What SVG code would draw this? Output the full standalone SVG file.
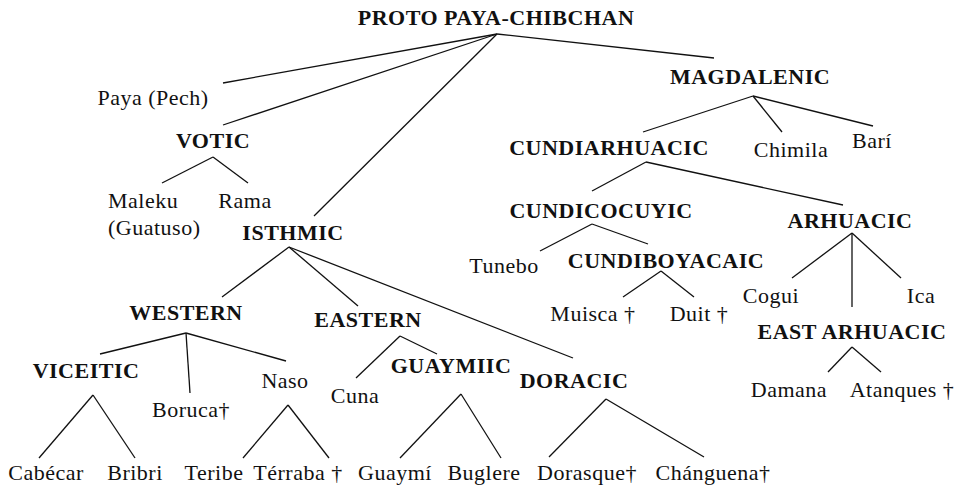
<svg xmlns="http://www.w3.org/2000/svg" width="965" height="489" viewBox="0 0 965 489">
<style>
text{font-family:"Liberation Serif","Times New Roman",serif;fill:#111;text-anchor:middle}
.b{font-weight:bold;font-size:22px;letter-spacing:0.5px}
.r{font-size:22px;letter-spacing:0.5px}
.s{text-anchor:start}
#edges line{stroke:#111;stroke-width:1.3}
</style>
<rect width="965" height="489" fill="#fff"/>
<g id="edges">
<line x1="497" y1="34" x2="223" y2="83"/>
<line x1="497" y1="34" x2="223" y2="125"/>
<line x1="497" y1="34" x2="314" y2="216"/>
<line x1="497" y1="34" x2="714" y2="58"/>
<line x1="213" y1="157" x2="162" y2="183"/>
<line x1="213" y1="157" x2="248" y2="183"/>
<line x1="289" y1="247" x2="222" y2="297"/>
<line x1="289" y1="247" x2="358" y2="306"/>
<line x1="289" y1="247" x2="573" y2="358"/>
<line x1="186" y1="333" x2="100" y2="354"/>
<line x1="186" y1="333" x2="190" y2="393"/>
<line x1="186" y1="333" x2="286" y2="361"/>
<line x1="400" y1="336" x2="356" y2="378"/>
<line x1="400" y1="336" x2="437" y2="354"/>
<line x1="93" y1="395" x2="39" y2="458"/>
<line x1="93" y1="395" x2="135" y2="458"/>
<line x1="288" y1="405" x2="243" y2="458"/>
<line x1="288" y1="405" x2="329" y2="458"/>
<line x1="461" y1="394" x2="400" y2="458"/>
<line x1="461" y1="394" x2="501" y2="458"/>
<line x1="606" y1="399" x2="549" y2="457"/>
<line x1="606" y1="399" x2="704" y2="457"/>
<line x1="753" y1="96" x2="643" y2="132"/>
<line x1="753" y1="96" x2="782" y2="132"/>
<line x1="753" y1="96" x2="873" y2="126"/>
<line x1="646" y1="162" x2="592" y2="191"/>
<line x1="646" y1="162" x2="843" y2="205"/>
<line x1="592" y1="224" x2="540" y2="251"/>
<line x1="592" y1="224" x2="648" y2="244"/>
<line x1="852" y1="233" x2="792" y2="278"/>
<line x1="852" y1="233" x2="852" y2="307"/>
<line x1="852" y1="233" x2="901" y2="278"/>
<line x1="661" y1="271" x2="623" y2="297"/>
<line x1="661" y1="271" x2="694" y2="297"/>
<line x1="852" y1="347" x2="828" y2="372"/>
<line x1="852" y1="347" x2="881" y2="372"/>
</g>
<g id="n-root"><text class="b" x="496" y="25">PROTO PAYA-CHIBCHAN</text></g>
<g id="n-paya"><text class="r" x="153" y="105">Paya (Pech)</text></g>
<g id="n-votic"><text class="b" x="213" y="148">VOTIC</text></g>
<g id="n-maleku"><text class="r s" x="108" y="208">Maleku</text><text class="r s" x="108" y="235">(Guatuso)</text></g>
<g id="n-rama"><text class="r" x="245" y="208">Rama</text></g>
<g id="n-isthmic"><text class="b" x="293" y="240">ISTHMIC</text></g>
<g id="n-western"><text class="b" x="186" y="320">WESTERN</text></g>
<g id="n-eastern"><text class="b" x="368" y="327">EASTERN</text></g>
<g id="n-viceitic"><text class="b" x="86" y="378">VICEITIC</text></g>
<g id="n-boruca"><text class="r" x="191" y="417">Boruca†</text></g>
<g id="n-naso"><text class="r" x="285" y="388">Naso</text></g>
<g id="n-cuna"><text class="r" x="355" y="403">Cuna</text></g>
<g id="n-guaymiic"><text class="b" x="451" y="373">GUAYMIIC</text></g>
<g id="n-doracic"><text class="b" x="574" y="388">DORACIC</text></g>
<g id="n-cabecar"><text class="r" x="46" y="480">Cabécar</text></g>
<g id="n-bribri"><text class="r" x="135" y="480">Bribri</text></g>
<g id="n-teribe"><text class="r" x="214" y="480">Teribe</text></g>
<g id="n-terraba"><text class="r" x="298" y="480">Térraba †</text></g>
<g id="n-guaymi"><text class="r" x="395" y="480">Guaymí</text></g>
<g id="n-buglere"><text class="r" x="484" y="480">Buglere</text></g>
<g id="n-dorasque"><text class="r" x="587" y="480">Dorasque†</text></g>
<g id="n-changuena"><text class="r" x="713" y="480">Chánguena†</text></g>
<g id="n-magdalenic"><text class="b" x="750" y="84">MAGDALENIC</text></g>
<g id="n-cundiarhuacic"><text class="b" x="609" y="155">CUNDIARHUACIC</text></g>
<g id="n-chimila"><text class="r" x="791" y="157">Chimila</text></g>
<g id="n-bari"><text class="r" x="872" y="148">Barí</text></g>
<g id="n-cundicocuyic"><text class="b" x="601" y="218">CUNDICOCUYIC</text></g>
<g id="n-arhuacic"><text class="b" x="850" y="228">ARHUACIC</text></g>
<g id="n-tunebo"><text class="r" x="504" y="273">Tunebo</text></g>
<g id="n-cundiboyacaic"><text class="b" x="666" y="268">CUNDIBOYACAIC</text></g>
<g id="n-muisca"><text class="r" x="593" y="321">Muisca †</text></g>
<g id="n-duit"><text class="r" x="699" y="321">Duit †</text></g>
<g id="n-cogui"><text class="r" x="771" y="303">Cogui</text></g>
<g id="n-ica"><text class="r" x="921" y="303">Ica</text></g>
<g id="n-eastarhuacic"><text class="b" x="852" y="339">EAST ARHUACIC</text></g>
<g id="n-damana"><text class="r" x="789" y="397">Damana</text></g>
<g id="n-atanques"><text class="r" x="902" y="397">Atanques †</text></g>
</svg>
